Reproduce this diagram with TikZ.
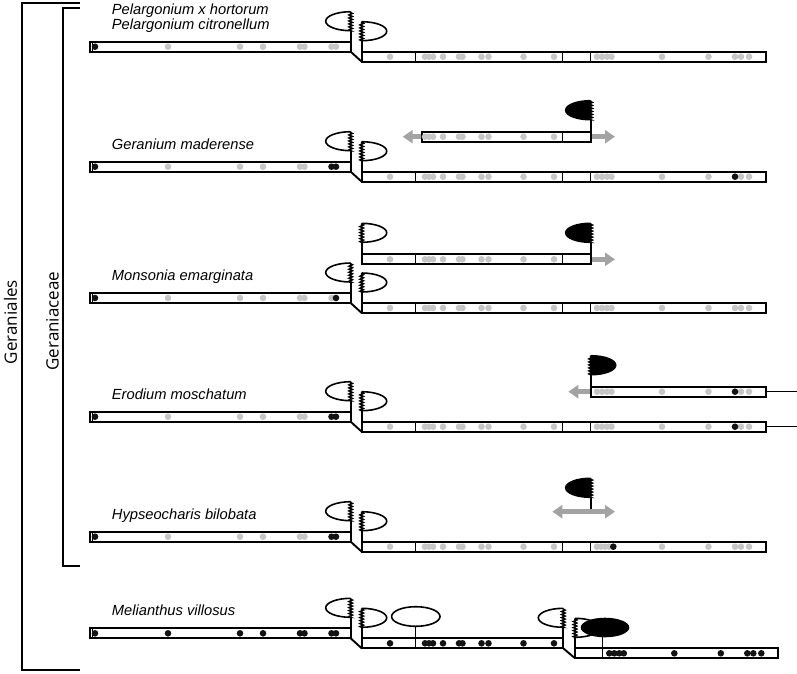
\documentclass[tikz,border=0pt]{standalone}
\usepackage{fontspec}
\setmainfont{Liberation Sans}
\newfontfamily\cladefont{Open Sans}
\usepackage{xcolor}
\usepackage{tikz}
\usetikzlibrary{arrows.meta,decorations.pathmorphing}
\definecolor{dotgrey}{HTML}{C6C6C6}
\definecolor{arrowgrey}{HTML}{A3A3A3}

\begin{document}
\begin{tikzpicture}[
    x=1pt, y=-1pt,
    bar/.style={draw=black, line width=1.9pt, inner sep=0pt, outer sep=0pt, minimum height=10pt, anchor=north west},
    joint/.style={draw=black, line width=1.9pt},
    split/.style={draw=black, line width=1.5pt},
    capline/.style={draw=black, line width=1.6pt},
    zz/.style={decoration={zigzag, segment length=3pt, amplitude=1.6pt}},
    pics/lcap/.style={code={\draw[capline, fill=#1] (0,0) arc[start angle=270, end angle=90, x radius=25, y radius=9.5] decorate[zz]{-- (0,0)};}},
    pics/lcap/.default=white,
    pics/rcap/.style={code={\draw[capline, fill=#1] (0,0) arc[start angle=270, end angle=450, x radius=25, y radius=9.5] decorate[zz]{-- (0,0)};}},
    pics/rcap/.default=white,
    gdot/.style={fill=dotgrey},
    bdot/.style={fill=black!92},
    garrow/.style={draw=arrowgrey, line width=4.5pt, -{Triangle[width=13pt, length=10pt]}},
    garrows/.style={draw=arrowgrey, line width=4.5pt, {Triangle[width=13pt, length=10pt]}-{Triangle[width=13pt, length=10pt]}},
    species/.style={font=\fontsize{14.7}{16}\selectfont\itshape, inner sep=0pt, anchor=base west},
    clade/.style={font=\cladefont\fontsize{17}{19}\selectfont, rotate=90, inner sep=0pt},
    bracket/.style={draw=black, line width=1.5pt}
]
\useasboundingbox (0,0) rectangle (797,673);

% Brackets
\draw[bracket] (80,3) -- (22,3) -- (22,670) -- (80,670);
\draw[bracket] (80,8) -- (63,8) -- (63,566) -- (80,566);
\node[clade] (ordo) at (10.5,322) {Geraniales};
\node[clade] (fam) at (52.5,321) {Geraniaceae};

% Pelargonium
\node[species] (pelA) at (111.7,14.5) {Pelargonium x hortorum};
\node[species] (pelB) at (111.7,29.3) {Pelargonium citronellum};
\node[bar, minimum width=260.7pt] (pelL) at (90,41.7) {};
\node[bar, minimum width=404pt] (pelR) at (361.7,51.7) {};
\draw[joint] (pelL.south east) -- (pelR.south west);
\draw[joint] (pelL.north east) -- ++(0,-11);
\draw[joint] (pelR.north west) -- ++(0,-11);
\pic at (350.7,11.7) {lcap};
\pic at (361.7,21.7) {rcap};
\draw[split] (92.5,41.7) -- ++(0,10);
\foreach \x in {415.5,562.7,590.7} \draw[split] (\x,51.7) -- ++(0,10);
\foreach \x in {168,240,263,300,304.5,331.5,336} \fill[gdot] (\x,46.7) circle[radius=3.3];
\fill[bdot] (95,46.7) circle[radius=3.3];
\foreach \x in {390,425,429,433,443,459,462.5,481.5,488.5,523.5,554,597,602,607,611.5,662,708.5,735,741,749}
    \fill[gdot] (\x,56.7) circle[radius=3.3];

% Geranium maderense
\node[species] (ger) at (111.7,149.2) {Geranium maderense};
\node[bar, minimum width=260.7pt] (gerL) at (90,161.7) {};
\node[bar, minimum width=404pt] (gerR) at (361.7,171.7) {};
\node[bar, minimum width=169pt] (gerF) at (421.7,131.7) {};
\draw[joint] (gerL.south east) -- (gerR.south west);
\draw[joint] (gerL.north east) -- ++(0,-11);
\draw[joint] (gerR.north west) -- ++(0,-11);
\draw[joint] (gerF.north east) -- ++(0,-12);
\pic at (350.7,131.7) {lcap};
\pic at (361.7,141.7) {rcap};
\pic at (590.7,100.7) {lcap=black};
\coordinate (gerW) at (402.7,136.7);
\coordinate (gerE) at (615,136.7);
\draw[garrow] ([xshift=-0.95pt]gerF.west) -- (gerW);
\draw[garrow] ([xshift=0.95pt]gerF.east) -- (gerE);
\draw[split] (92.5,161.7) -- ++(0,10);
\draw[split] (562.7,131.7) -- ++(0,10);
\foreach \x in {415.5,562.7,590.7} \draw[split] (\x,171.7) -- ++(0,10);
\foreach \x in {168,240,263,300,304.5} \fill[gdot] (\x,166.7) circle[radius=3.3];
\foreach \x in {95,331.5,336} \fill[bdot] (\x,166.7) circle[radius=3.3];
\foreach \x in {425,429,433,443,459,462.5,481.5,488.5,523.5,554} \fill[gdot] (\x,136.7) circle[radius=3.3];
\foreach \x in {390,425,429,433,443,459,462.5,481.5,488.5,523.5,554,597,602,607,611.5,662,708.5,741,749}
    \fill[gdot] (\x,176.7) circle[radius=3.3];
\fill[bdot] (735,176.7) circle[radius=3.3];

% Monsonia emarginata
\node[species] (mon) at (111.7,280.5) {Monsonia emarginata};
\node[bar, minimum width=260.7pt] (monL) at (90,293) {};
\node[bar, minimum width=404pt] (monR) at (361.7,303) {};
\node[bar, minimum width=229pt] (monF) at (361.7,254.3) {};
\draw[joint] (monL.south east) -- (monR.south west);
\draw[joint] (monL.north east) -- ++(0,-11);
\draw[joint] (monR.north west) -- ++(0,-11);
\draw[joint] (monF.north west) -- ++(0,-12);
\draw[joint] (monF.north east) -- ++(0,-12);
\pic at (350.7,263) {lcap};
\pic at (361.7,273) {rcap};
\pic at (361.7,223.3) {rcap};
\pic at (590.7,223.3) {lcap=black};
\coordinate (monE) at (615,259.3);
\draw[garrow] ([xshift=0.95pt]monF.east) -- (monE);
\draw[split] (92.5,293) -- ++(0,10);
\foreach \x in {415.5,562.7} \draw[split] (\x,254.3) -- ++(0,10);
\foreach \x in {415.5,562.7,590.7} \draw[split] (\x,303) -- ++(0,10);
\foreach \x in {168,240,263,300,304.5,331.5} \fill[gdot] (\x,298) circle[radius=3.3];
\foreach \x in {95,336} \fill[bdot] (\x,298) circle[radius=3.3];
\foreach \x in {390,425,429,433,443,459,462.5,481.5,488.5,523.5,554} \fill[gdot] (\x,259.3) circle[radius=3.3];
\foreach \x in {390,425,429,433,443,459,462.5,481.5,488.5,523.5,554,597,602,607,611.5,662,708.5,735,741,749}
    \fill[gdot] (\x,308) circle[radius=3.3];

% Erodium moschatum
\node[species] (ero) at (111.7,399.2) {Erodium moschatum};
\node[bar, minimum width=260.7pt] (eroL) at (90,411.7) {};
\node[bar, minimum width=404pt] (eroR) at (361.7,421.7) {};
\node[bar, minimum width=175pt] (eroF) at (590.7,386.7) {};
\draw[joint] (eroL.south east) -- (eroR.south west);
\draw[joint] (eroL.north east) -- ++(0,-11);
\draw[joint] (eroR.north west) -- ++(0,-11);
\draw[joint] (eroF.north west) -- ++(0,-12);
\pic at (350.7,381.7) {lcap};
\pic at (361.7,391.7) {rcap};
\pic at (590.7,355.7) {rcap=black};
\coordinate (eroW) at (568.3,391.7);
\coordinate (eroFt) at (797,391.7);
\coordinate (eroRt) at (797,426.7);
\draw[garrow] ([xshift=-0.95pt]eroF.west) -- (eroW);
\draw[split] (eroF.east) -- (eroFt);
\draw[split] (eroR.east) -- (eroRt);
\draw[split] (92.5,411.7) -- ++(0,10);
\foreach \x in {415.5,562.7,590.7} \draw[split] (\x,421.7) -- ++(0,10);
\foreach \x in {168,240,263,300,304.5} \fill[gdot] (\x,416.7) circle[radius=3.3];
\foreach \x in {95,331.5,336} \fill[bdot] (\x,416.7) circle[radius=3.3];
\foreach \x in {597,602,607,611.5,662,708.5,741,749} \fill[gdot] (\x,391.7) circle[radius=3.3];
\fill[bdot] (735,391.7) circle[radius=3.3];
\foreach \x in {390,425,429,433,443,459,462.5,481.5,488.5,523.5,554,597,602,607,611.5,662,708.5,741,749}
    \fill[gdot] (\x,426.7) circle[radius=3.3];
\fill[bdot] (735,426.7) circle[radius=3.3];

% Hypseocharis bilobata
\node[species] (hyp) at (111.7,519.2) {Hypseocharis bilobata};
\node[bar, minimum width=260.7pt] (hypL) at (90,531.7) {};
\node[bar, minimum width=404pt] (hypR) at (361.7,541.7) {};
\draw[joint] (hypL.south east) -- (hypR.south west);
\draw[joint] (hypL.north east) -- ++(0,-11);
\draw[joint] (hypR.north west) -- ++(0,-11);
\pic at (350.7,501.7) {lcap};
\pic at (361.7,511.7) {rcap};
\pic at (590.7,478.3) {lcap=black};
\coordinate (hypW) at (552.3,511.7);
\coordinate (hypE) at (615,511.7);
\coordinate (hypS) at (590.7,511.7);
\draw[joint] (hypS) -- ++(0,-14.4);
\draw[garrows] (hypW) -- (hypE);
\draw[split] (92.5,531.7) -- ++(0,10);
\foreach \x in {415.5,562.7,590.7} \draw[split] (\x,541.7) -- ++(0,10);
\foreach \x in {168,240,263,300,304.5} \fill[gdot] (\x,536.7) circle[radius=3.3];
\foreach \x in {95,331.5,336} \fill[bdot] (\x,536.7) circle[radius=3.3];
\foreach \x in {390,425,429,433,443,459,462.5,481.5,488.5,523.5,554,597,601,605,609,662,708.5,735,741,749}
    \fill[gdot] (\x,546.7) circle[radius=3.3];
\fill[bdot] (613.3,546.7) circle[radius=3.3];

% Melianthus villosus
\node[species] (mel) at (111.7,615.8) {Melianthus villosus};
\node[bar, minimum width=260.7pt] (melL) at (90,628.3) {};
\node[bar, minimum width=201.6pt] (melM) at (361.7,638.3) {};
\node[bar, minimum width=203pt] (melT) at (575,648.3) {};
\draw[joint] (melL.south east) -- (melM.south west);
\draw[joint] (melM.south east) -- (melT.south west);
\draw[joint] (melL.north east) -- ++(0,-11);
\draw[joint] (melM.north west) -- ++(0,-11);
\draw[joint] (melM.north east) -- ++(0,-11);
\draw[joint] (melT.north west) -- ++(0,-11);
\pic at (350.7,598.3) {lcap};
\pic at (361.7,608.3) {rcap};
\pic at (563.3,608.3) {lcap};
\pic at (575,618.3) {rcap};
\draw[capline, fill=white] (415.8,616.5) ellipse[x radius=24.2, y radius=9.8];
\fill[black] (605,627.5) ellipse[x radius=24.3, y radius=9.8];
\draw[split] (92.5,628.3) -- ++(0,10);
\draw[split] (415.5,626.3) -- (415.5,648.3);
\draw[split] (602.7,637.3) -- (602.7,658.3);
\foreach \x in {95,168,240,263,300,304.5,331.5,336} \fill[bdot] (\x,633.3) circle[radius=3.3];
\foreach \x in {390,425,429,433,443,459,462.5,481.5,488.5,523.5,554} \fill[bdot] (\x,643.3) circle[radius=3.3];
\foreach \x in {609.3,614.3,619.3,623.8,674.3,720.8,747.3,753.3,761.3} \fill[bdot] (\x,653.3) circle[radius=3.3];

\end{tikzpicture}
\end{document}
